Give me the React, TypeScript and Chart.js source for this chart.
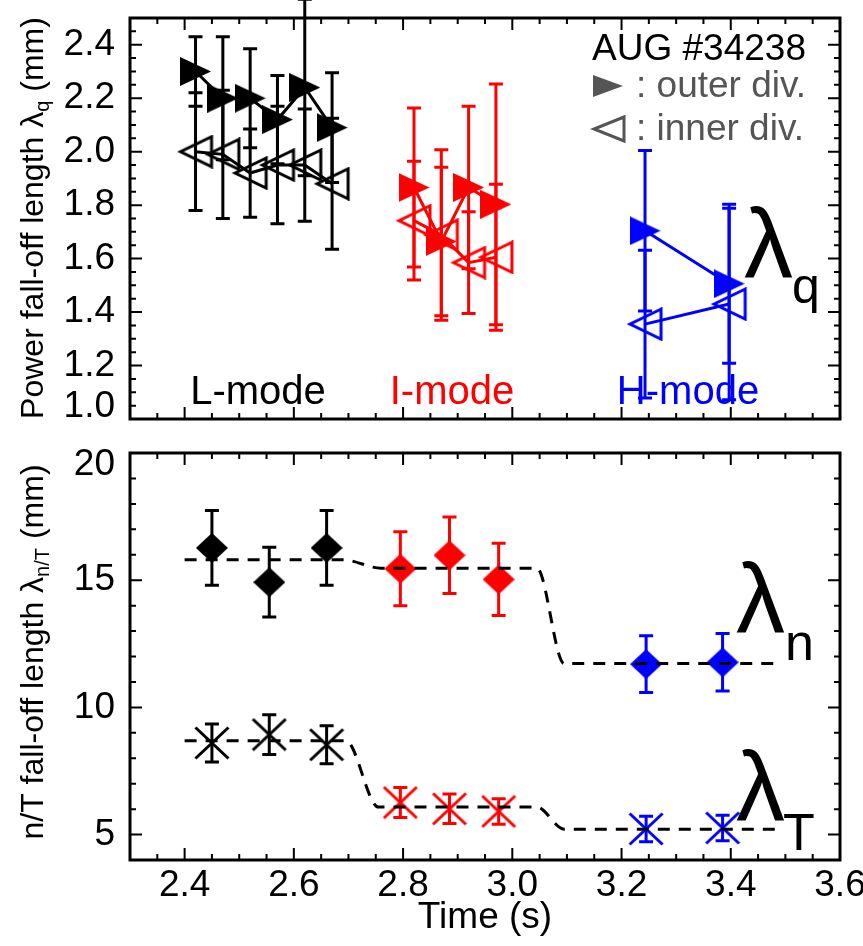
import React, { useEffect, useRef } from 'react';
import { Chart, registerables } from 'chart.js';
Chart.register(...registerables);

const FONT = '"Liberation Sans", Arial, Helvetica, sans-serif';

// ---------- axes ----------
const xMin = 2.3;
const xMax = 3.6;
const xTicks = [2.4, 2.6, 2.8, 3.0, 3.2, 3.4, 3.6];
const xTickLabels = ['2.4', '2.6', '2.8', '3.0', '3.2', '3.4', '3.6'];
const xMinorStep = 0.05;

const yTopMin = 1.0;
const yTopMax = 2.5;
const yTopTicks = [1.0, 1.2, 1.4, 1.6, 1.8, 2.0, 2.2, 2.4];
const yTopTickLabels = ['1.0', '1.2', '1.4', '1.6', '1.8', '2.0', '2.2', '2.4'];
const yTopMinorStep = 0.05;

const yBotMin = 4;
const yBotMax = 20;
const yBotTicks = [5, 10, 15, 20];
const yBotTickLabels = ['5', '10', '15', '20'];
const yBotMinorStep = 1;

// ---------- top panel: power fall-off length (mm) ----------
const lTimesTop = [2.42, 2.47, 2.52, 2.57, 2.62, 2.67];
const lOuter = [2.30, 2.20, 2.20, 2.12, 2.24, 2.09];
const lOuterErr = [0.13, 0.23, 0.185, 0.165, 0.33, 0.205];
const lInner = [2.00, 1.99, 1.92, 1.95, 1.95, 1.88];
const lInnerErr = [0.22, 0.24, 0.165, 0.22, 0.21, 0.245];

const iTimesTop = [2.82, 2.87, 2.92, 2.97];
const iOuter = [1.866, 1.664, 1.866, 1.803];
const iOuterErr = [0.297, 0.278, 0.304, 0.45];
const iInner = [1.742, 1.688, 1.585, 1.605];
const iInnerErr = [0.222, 0.319, 0.19, 0.273];

const hTimesTop = [3.243, 3.397];
const hOuter = [1.704, 1.506];
const hOuterErr = [0.30, 0.297];
const hInner = [1.355, 1.43];
const hInnerErr = [0.276, 0.358];

// ---------- bottom panel: n/T fall-off length (mm) ----------
const lTimesBot = [2.45, 2.555, 2.66];
const iTimesBot = [2.795, 2.885, 2.975];
const hTimesBot = [3.245, 3.385];

const lLamN = [16.27, 14.92, 16.27];
const lLamNErr = [1.47, 1.37, 1.47];
const iLamN = [15.45, 15.98, 15.03];
const iLamNErr = [1.45, 1.5, 1.42];
const hLamN = [11.70, 11.77];
const hLamNErr = [1.12, 1.13];

const lLamT = [8.60, 8.93, 8.53];
const lLamTErr = [0.75, 0.78, 0.75];
const iLamT = [6.26, 6.01, 5.91];
const iLamTErr = [0.59, 0.58, 0.50];
const hLamT = [5.22, 5.26];
const hLamTErr = [0.5, 0.5];

const fitNTimes = [2.40, 2.69, 2.76, 3.045, 3.095, 3.49];
const fitNValues = [15.8, 15.8, 15.47, 15.47, 11.72, 11.72];
const fitTTimes = [2.40, 2.695, 2.755, 3.045, 3.095, 3.49];
const fitTValues = [8.69, 8.69, 6.08, 6.08, 5.21, 5.21];

const BLACK = '#000000';
const RED = '#ff0000';
const BLUE = '#0000ff';
const GRAY = '#555555';

type ErrSeries = { x: number[]; y: number[]; err: number[]; color: string };

function makeMarker(w: number, h: number, draw: (ctx: CanvasRenderingContext2D) => void) {
  const c = document.createElement('canvas');
  c.width = w;
  c.height = h;
  const ctx = c.getContext('2d')!;
  draw(ctx);
  return c;
}
const filledRight = (color: string) =>
  makeMarker(31, 29, (ctx) => {
    ctx.fillStyle = color;
    ctx.beginPath();
    ctx.moveTo(0, 0);
    ctx.lineTo(31, 14.5);
    ctx.lineTo(0, 29);
    ctx.closePath();
    ctx.fill();
  });
const hollowLeft = (color: string) =>
  makeMarker(38, 34, (ctx) => {
    ctx.strokeStyle = color;
    ctx.lineWidth = 3;
    ctx.beginPath();
    ctx.moveTo(35, 2);
    ctx.lineTo(4, 17);
    ctx.lineTo(35, 32);
    ctx.closePath();
    ctx.stroke();
  });
const diamond = (color: string) =>
  makeMarker(32, 30, (ctx) => {
    ctx.fillStyle = color;
    ctx.beginPath();
    ctx.moveTo(16, 0);
    ctx.lineTo(32, 15);
    ctx.lineTo(16, 30);
    ctx.lineTo(0, 15);
    ctx.closePath();
    ctx.fill();
  });
const asterisk = (color: string) =>
  makeMarker(36, 34, (ctx) => {
    ctx.strokeStyle = color;
    ctx.lineWidth = 3;
    ctx.beginPath();
    ctx.moveTo(1.5, 1.5);
    ctx.lineTo(34.5, 32.5);
    ctx.moveTo(34.5, 1.5);
    ctx.lineTo(1.5, 32.5);
    ctx.stroke();
  });

function pts(xs: number[], ys: number[]) {
  return xs.map((x, i) => ({ x, y: ys[i] }));
}

function drawRich(
  ctx: CanvasRenderingContext2D,
  x: number,
  y: number,
  parts: [string, number, number][],
  align: 'left' | 'center' | 'right',
  color: string
) {
  let total = 0;
  for (const [t, s] of parts) {
    ctx.font = `${s}px ${FONT}`;
    total += ctx.measureText(t).width;
  }
  let cx = align === 'left' ? x : align === 'center' ? x - total / 2 : x - total;
  ctx.fillStyle = color;
  ctx.textAlign = 'left';
  ctx.textBaseline = 'alphabetic';
  for (const [t, s, dy] of parts) {
    ctx.font = `${s}px ${FONT}`;
    ctx.fillText(t, cx, y + dy);
    cx += ctx.measureText(t).width;
  }
}

function drawAt(ctx: CanvasRenderingContext2D, t: string, size: number, x: number, y: number, color: string) {
  ctx.font = `${size}px ${FONT}`;
  ctx.fillStyle = color;
  ctx.textAlign = 'left';
  ctx.textBaseline = 'alphabetic';
  ctx.fillText(t, x, y);
}

function drawFrame(chart: any, yMajor: number[], yMin: number, yMax: number, yStep: number) {
  const { ctx, chartArea: a } = chart;
  const xs = chart.scales.x;
  const ys = chart.scales.y;
  ctx.save();
  ctx.strokeStyle = '#000';
  ctx.lineWidth = 2;
  ctx.beginPath();
  const nx = Math.round((xMax - xMin) / xMinorStep);
  for (let i = 0; i <= nx; i++) {
    const v = xMin + i * xMinorStep;
    const major = xTicks.some((t) => Math.abs(t - v) < 1e-6);
    const len = major ? 12 : 6;
    const px = xs.getPixelForValue(v);
    ctx.moveTo(px, a.bottom);
    ctx.lineTo(px, a.bottom - len);
    ctx.moveTo(px, a.top);
    ctx.lineTo(px, a.top + len);
  }
  const ny = Math.round((yMax - yMin) / yStep);
  for (let i = 0; i <= ny; i++) {
    const v = yMin + i * yStep;
    const major = yMajor.some((t) => Math.abs(t - v) < 1e-6);
    const len = major ? 12 : 6;
    const py = ys.getPixelForValue(v);
    ctx.moveTo(a.left, py);
    ctx.lineTo(a.left + len, py);
    ctx.moveTo(a.right, py);
    ctx.lineTo(a.right - len, py);
  }
  ctx.stroke();
  ctx.lineWidth = 3;
  ctx.strokeRect(a.left, a.top, a.right - a.left, a.bottom - a.top);
  ctx.restore();
}

function errPlugin(series: ErrSeries[]) {
  return {
    id: 'errbars',
    beforeDatasetsDraw(chart: any) {
      const { ctx } = chart;
      const xs = chart.scales.x;
      const ys = chart.scales.y;
      ctx.save();
      ctx.lineWidth = 3;
      for (const s of series) {
        ctx.strokeStyle = s.color;
        s.x.forEach((xv, i) => {
          const px = xs.getPixelForValue(xv);
          const p1 = ys.getPixelForValue(s.y[i] + s.err[i]);
          const p0 = ys.getPixelForValue(s.y[i] - s.err[i]);
          ctx.beginPath();
          ctx.moveTo(px, p1);
          ctx.lineTo(px, p0);
          ctx.moveTo(px - 7, p1);
          ctx.lineTo(px + 7, p1);
          ctx.moveTo(px - 7, p0);
          ctx.lineTo(px + 7, p0);
          ctx.stroke();
        });
      }
      ctx.restore();
    },
  };
}

function yAxis(min: number, max: number, ticks: number[], labels: string[], edge: 'min' | 'max') {
  return {
    type: 'linear' as const,
    min,
    max,
    afterBuildTicks: (ax: any) => {
      ax.ticks = ticks.map((v) => ({ value: v }));
    },
    afterFit: (ax: any) => {
      ax.width = 130;
      ax.paddingTop = 0;
      ax.paddingBottom = 0;
    },
    grid: { display: false, drawTicks: false },
    border: { display: false },
    ticks: {
      color: '#000',
      padding: 15,
      autoSkip: false,
      font: { family: FONT, size: 37, lineHeight: 0.65 },
      callback: (_v: any, i: number) => {
        const lbl = labels[i];
        if (edge === 'min' && i === 0) return [lbl, ''];
        if (edge === 'max' && i === labels.length - 1) return ['', lbl];
        return lbl;
      },
    },
  };
}

export default function App() {
  const topRef = useRef<HTMLCanvasElement>(null);
  const botRef = useRef<HTMLCanvasElement>(null);

  useEffect(() => {
    const lineDs = (xs: number[], ys: number[], color: string, marker: HTMLCanvasElement) => ({
      data: pts(xs, ys),
      borderColor: color,
      backgroundColor: color,
      borderWidth: 3,
      pointStyle: marker,
      pointRadius: 15,
      showLine: true,
      tension: 0,
    });

    const top = new Chart(topRef.current!, {
      type: 'scatter',
      data: {
        datasets: [
          lineDs(lTimesTop, lOuter, BLACK, filledRight(BLACK)),
          lineDs(iTimesTop, iOuter, RED, filledRight(RED)),
          lineDs(hTimesTop, hOuter, BLUE, filledRight(BLUE)),
          lineDs(lTimesTop, lInner, BLACK, hollowLeft(BLACK)),
          lineDs(iTimesTop, iInner, RED, hollowLeft(RED)),
          lineDs(hTimesTop, hInner, BLUE, hollowLeft(BLUE)),
        ] as any,
      },
      options: {
        responsive: false,
        animation: false,
        devicePixelRatio: 1,
        events: [],
        layout: { padding: { top: 15, right: 23, bottom: 9, left: 0 } },
        plugins: { legend: { display: false }, tooltip: { enabled: false } },
        scales: {
          x: { type: 'linear', min: xMin, max: xMax, display: false },
          y: yAxis(yTopMin, yTopMax, yTopTicks, yTopTickLabels, 'min') as any,
        },
      },
      plugins: [
        errPlugin([
          { x: lTimesTop, y: lOuter, err: lOuterErr, color: BLACK },
          { x: lTimesTop, y: lInner, err: lInnerErr, color: BLACK },
          { x: iTimesTop, y: iOuter, err: iOuterErr, color: RED },
          { x: iTimesTop, y: iInner, err: iInnerErr, color: RED },
          { x: hTimesTop, y: hOuter, err: hOuterErr, color: BLUE },
          { x: hTimesTop, y: hInner, err: hInnerErr, color: BLUE },
        ]),
        {
          id: 'decorTop',
          afterDraw(chart: any) {
            drawFrame(chart, yTopTicks, yTopMin, yTopMax, yTopMinorStep);
            const ctx = chart.ctx as CanvasRenderingContext2D;
            ctx.save();
            drawRich(ctx, 806, 60, [['AUG #34238', 37, 0]], 'right', BLACK);
            ctx.fillStyle = GRAY;
            ctx.beginPath();
            ctx.moveTo(593, 75);
            ctx.lineTo(623, 86);
            ctx.lineTo(593, 97);
            ctx.closePath();
            ctx.fill();
            drawRich(ctx, 636, 97, [[': outer div.', 37, 0]], 'left', GRAY);
            ctx.strokeStyle = GRAY;
            ctx.lineWidth = 3;
            ctx.beginPath();
            ctx.moveTo(624, 117);
            ctx.lineTo(594, 129);
            ctx.lineTo(624, 141);
            ctx.closePath();
            ctx.stroke();
            drawRich(ctx, 636, 140, [[': inner div.', 37, 0]], 'left', GRAY);
            drawRich(ctx, 258, 404, [['L-mode', 40, 0]], 'center', BLACK);
            drawRich(ctx, 452, 404, [['I-mode', 40, 0]], 'center', RED);
            drawRich(ctx, 688, 404, [['H-mode', 40, 0]], 'center', BLUE);
            drawAt(ctx, 'λ', 98, 744, 277, BLACK);
            drawAt(ctx, 'q', 50, 792, 303, BLACK);
            ctx.translate(43, 218);
            ctx.rotate(-Math.PI / 2);
            drawRich(ctx, 0, 0, [['Power fall-off length λ', 32, 0], ['q', 20, 6], [' (mm)', 32, 0]], 'center', BLACK);
            ctx.restore();
          },
        },
      ],
    });

    const scat = (xs: number[], ys: number[], marker: HTMLCanvasElement) => ({
      data: pts(xs, ys),
      pointStyle: marker,
      pointRadius: 15,
      showLine: false,
    });
    const fitDs = (xs: number[], ys: number[]) => ({
      data: pts(xs, ys),
      borderColor: BLACK,
      borderWidth: 3,
      borderDash: [12, 9],
      pointRadius: 0,
      showLine: true,
      cubicInterpolationMode: 'monotone',
    });

    const bot = new Chart(botRef.current!, {
      type: 'scatter',
      data: {
        datasets: [
          fitDs(fitNTimes, fitNValues),
          fitDs(fitTTimes, fitTValues),
          scat(lTimesBot, lLamN, diamond(BLACK)),
          scat(iTimesBot, iLamN, diamond(RED)),
          scat(hTimesBot, hLamN, diamond(BLUE)),
          scat(lTimesBot, lLamT, asterisk(BLACK)),
          scat(iTimesBot, iLamT, asterisk(RED)),
          scat(hTimesBot, hLamT, asterisk(BLUE)),
        ] as any,
      },
      options: {
        responsive: false,
        animation: false,
        devicePixelRatio: 1,
        events: [],
        layout: { padding: { top: 10, right: 23, bottom: 0, left: 0 } },
        plugins: { legend: { display: false }, tooltip: { enabled: false } },
        scales: {
          x: {
            type: 'linear',
            min: xMin,
            max: xMax,
            afterBuildTicks: (ax: any) => {
              ax.ticks = xTicks.map((v) => ({ value: v }));
            },
            afterFit: (ax: any) => {
              ax.height = 86;
              ax.paddingLeft = 0;
              ax.paddingRight = 0;
            },
            grid: { display: false, drawTicks: false },
            border: { display: false },
            ticks: {
              color: '#000',
              padding: 4,
              maxRotation: 0,
              autoSkip: false,
              font: { family: FONT, size: 37 },
              callback: (_v: any, i: number) => xTickLabels[i],
            },
            title: {
              display: true,
              text: 'Time (s)',
              color: '#000',
              font: { family: FONT, size: 37 },
              padding: { top: 0, bottom: 6 },
            },
          } as any,
          y: yAxis(yBotMin, yBotMax, yBotTicks, yBotTickLabels, 'max') as any,
        },
      },
      plugins: [
        errPlugin([
          { x: lTimesBot, y: lLamN, err: lLamNErr, color: BLACK },
          { x: iTimesBot, y: iLamN, err: iLamNErr, color: RED },
          { x: hTimesBot, y: hLamN, err: hLamNErr, color: BLUE },
          { x: lTimesBot, y: lLamT, err: lLamTErr, color: BLACK },
          { x: iTimesBot, y: iLamT, err: iLamTErr, color: RED },
          { x: hTimesBot, y: hLamT, err: hLamTErr, color: BLUE },
        ]),
        {
          id: 'decorBot',
          afterDraw(chart: any) {
            drawFrame(chart, yBotTicks, yBotMin, yBotMax, yBotMinorStep);
            const ctx = chart.ctx as CanvasRenderingContext2D;
            ctx.save();
            drawAt(ctx, 'λ', 98, 736, 195, BLACK);
            drawAt(ctx, 'n', 52, 785, 223, BLACK);
            drawAt(ctx, 'λ', 98, 736, 383, BLACK);
            drawAt(ctx, 'T', 52, 783, 413, BLACK);
            ctx.translate(43, 215);
            ctx.rotate(-Math.PI / 2);
            drawRich(ctx, 0, 0, [['n/T fall-off length λ', 32, 0], ['n/T', 20, 6], [' (mm)', 32, 0]], 'center', BLACK);
            ctx.restore();
          },
        },
      ],
    });

    return () => {
      top.destroy();
      bot.destroy();
    };
  }, []);

  return (
    <div style={{ position: 'absolute', left: 0, top: 0, width: 863, height: 946, background: '#fff' }}>
      <canvas
        ref={topRef}
        width={863}
        height={437}
        style={{ position: 'absolute', left: 0, top: 0, width: 863, height: 437 }}
      />
      <canvas
        ref={botRef}
        width={863}
        height={509}
        style={{ position: 'absolute', left: 0, top: 437, width: 863, height: 509 }}
      />
    </div>
  );
}
